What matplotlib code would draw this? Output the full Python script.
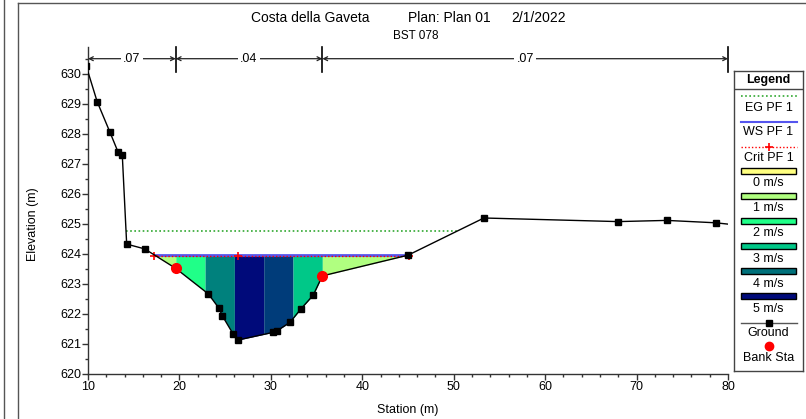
import numpy as np
import matplotlib
matplotlib.use("Agg")
import matplotlib.pyplot as plt
from matplotlib.colors import LinearSegmentedColormap
from matplotlib.patches import Rectangle
from matplotlib.lines import Line2D

plt.rcParams['font.family'] = ['Liberation Sans', 'DejaVu Sans']

# Ground survey (station m, elevation m)
sta = [9.8, 11.0, 12.4, 13.3, 13.75, 14.23, 16.2, 19.6, 23.16, 24.33, 24.69, 25.9,
       26.37, 30.27, 30.67, 32.09, 33.26, 34.64, 35.63, 45.0, 53.3, 68.0, 73.3,
       78.65, 80.5]
elev = [630.27, 629.08, 628.06, 627.39, 627.3, 624.33, 624.17, 623.52, 622.67,
        622.19, 621.94, 621.32, 621.13, 621.39, 621.44, 621.72, 622.16, 622.63,
        623.27, 623.96, 625.2, 625.08, 625.12, 625.04, 624.98]

bank_sta = [19.6, 35.63]
n_vals = ['.07', '.04', '.07']
n_breaks = [10, 19.6, 35.63, 80]

eg_level = 624.77
ws_level = 623.98
crit_level = 623.94

# velocity per flow slice: left overbank, 5 channel slices, right overbank
slice_vel = [1.0, 2.0, 3.8, 5.0, 4.5, 3.0, 1.0]
n_chan_slices = 5

vel_labels = ['0 m/s', '1 m/s', '2 m/s', '3 m/s', '4 m/s', '5 m/s']
vel_colors = ['#ffff80', '#b0ff80', '#20ff88', '#00c888', '#00707a', '#000a7a']

sta = np.array(sta)
elev = np.array(elev)
vcmap = LinearSegmentedColormap.from_list('vel', vel_colors)


def water_edges(level):
    i0 = int(np.argmin(elev))
    i = i0
    while elev[i - 1] < level:
        i -= 1
    xl = np.interp(level, [elev[i], elev[i - 1]], [sta[i], sta[i - 1]])
    j = i0
    while elev[j + 1] < level:
        j += 1
    xr = np.interp(level, [elev[j], elev[j + 1]], [sta[j], sta[j + 1]])
    return xl, xr


W, H = 806, 419
fig = plt.figure(figsize=(W / 100, H / 100), dpi=100)


def fx(px):
    return px / W


def fy(py):
    return 1 - py / H


# outer window frame lines
for xs, ys in [([3.5, 3.5], [0, H]), ([17.5, 17.5], [3.5, H]), ([17.5, W], [3.5, 3.5])]:
    fig.add_artist(Line2D([fx(x) for x in xs], [fy(y) for y in ys], color='#555555', lw=1))

ax = fig.add_axes([fx(88), fy(374), fx(728) - fx(88), fy(47) - fy(374)])
ax.set_xlim(10, 80)
ax.set_ylim(620, 620 + 327 / 30)
for s in ['top', 'right']:
    ax.spines[s].set_visible(False)
for s in ['left', 'bottom']:
    ax.spines[s].set_color('#333333')
    ax.spines[s].set_linewidth(1)
ax.set_xticks(np.arange(10, 81, 10))
ax.set_xticks(np.arange(10, 81, 2), minor=True)
ax.set_yticks(np.arange(620, 631, 1))
ax.set_yticks(np.arange(620, 630.6, 0.5), minor=True)
ax.tick_params(which='major', length=4, width=1, color='#333333', labelsize=9, pad=1)
ax.tick_params(which='minor', length=2.5, width=1, color='#333333')

# velocity slices
xl, xr = water_edges(ws_level)
bounds = [xl] + list(np.linspace(bank_sta[0], bank_sta[1], n_chan_slices + 1)) + [xr]
for k in range(len(bounds) - 1):
    a, b = bounds[k], bounds[k + 1]
    xs = np.unique(np.concatenate([[a, b], sta[(sta > a) & (sta < b)]]))
    zg = np.minimum(np.interp(xs, sta, elev), ws_level)
    ax.fill_between(xs, zg, ws_level, color=vcmap(min(slice_vel[k], 5) / 5),
                    lw=0, zorder=2)

# energy grade line
el, er = water_edges(eg_level)
ax.plot([el, er], [eg_level, eg_level], color='#30a830', ls=(0, (1, 1.5)), lw=1.2, zorder=3)

# water surface and critical
ax.plot([xl, xr], [ws_level, ws_level], color='#5555ee', lw=2, zorder=4)
ax.plot([xl, xr], [crit_level, crit_level], color='red', ls=(0, (1, 1.5)), lw=1, zorder=5)
ax.plot([xl, sta[np.argmin(elev)], xr], [crit_level] * 3, ls='none', marker='+',
        color='red', ms=6, mew=1.2, zorder=5)

# ground
ax.plot(sta, elev, color='black', lw=1, marker='s', ms=4.5, zorder=6)
ax.plot(bank_sta, np.interp(bank_sta, sta, elev), ls='none', marker='o',
        color='red', ms=7, zorder=7)

# n-value bar
ny = 630.51
for x in n_breaks[1:]:
    ax.plot([x, x], [630.07, 630.9], color='black', lw=1.2, clip_on=False, zorder=8)
for k, lab in enumerate(n_vals):
    a, b = n_breaks[k], n_breaks[k + 1]
    ax.annotate('', xy=(a, ny), xytext=(b, ny),
                arrowprops=dict(arrowstyle='<->', lw=0.9, color='#222222',
                                shrinkA=0, shrinkB=0, mutation_scale=7),
                annotation_clip=False)
    ax.text((a + b) / 2, ny, lab, ha='center', va='center', fontsize=9,
            bbox=dict(facecolor='white', edgecolor='none', pad=1.5), zorder=9)

# titles and axis labels
fig.text(fx(251), fy(18), 'Costa della Gaveta', fontsize=10, va='center', ha='left')
fig.text(fx(408), fy(18), 'Plan: Plan 01', fontsize=10, va='center', ha='left')
fig.text(fx(511), fy(18), '2/1/2022', fontsize=10, va='center', ha='left')
fig.text(fx(416), fy(36), 'BST 078', fontsize=8.5, va='center', ha='center')
fig.text(fx(408), fy(410), 'Station (m)', fontsize=9, va='center', ha='center')
fig.text(fx(33), fy(224), 'Elevation (m)', fontsize=9, va='center', ha='center', rotation=90)

# legend box drawn in pixel coordinates
lg = fig.add_axes([fx(734), fy(371), fx(803) - fx(734), fy(71) - fy(371)])
lg.set_xlim(734, 803)
lg.set_ylim(371, 71)
lg.set_xticks([])
lg.set_yticks([])
for s in lg.spines.values():
    s.set_color('#444444')
    s.set_linewidth(1)
cx = 768.5
lg.text(cx, 80, 'Legend', ha='center', va='center', fontsize=9, fontweight='bold')
lg.plot([734, 803], [89.5, 89.5], color='#444444', lw=1)
lg.plot([741, 797], [96, 96], color='#30a830', ls=(0, (1, 1.5)), lw=1.2)
lg.text(cx, 107.7, 'EG PF 1', ha='center', va='center', fontsize=9)
lg.plot([741, 797], [121.7, 121.7], color='#5555ee', lw=1.5)
lg.text(cx, 131.7, 'WS PF 1', ha='center', va='center', fontsize=9)
lg.plot([741, 797], [146.7, 146.7], color='red', ls=(0, (1, 1.5)), lw=1)
lg.plot([cx], [146.7], color='red', marker='+', ms=6, mew=1.2)
lg.text(cx, 157.7, 'Crit PF 1', ha='center', va='center', fontsize=9)
for k, (lab, col) in enumerate(zip(vel_labels, vel_colors)):
    yc = 171 + 25.1 * k
    lg.add_patch(Rectangle((741, yc - 3), 55, 6, facecolor=col, edgecolor='black', lw=1))
    lg.text(cx, yc + 12.3, lab, ha='center', va='center', fontsize=9)
lg.plot([741, 797], [322.7, 322.7], color='#555555', lw=1)
lg.plot([cx], [322.7], color='black', marker='s', ms=4.5)
lg.text(cx, 333.3, 'Ground', ha='center', va='center', fontsize=9)
lg.plot([cx], [346], color='red', marker='o', ms=6)
lg.text(cx, 358.3, 'Bank Sta', ha='center', va='center', fontsize=9)

fig.savefig('out.png', dpi=100)
